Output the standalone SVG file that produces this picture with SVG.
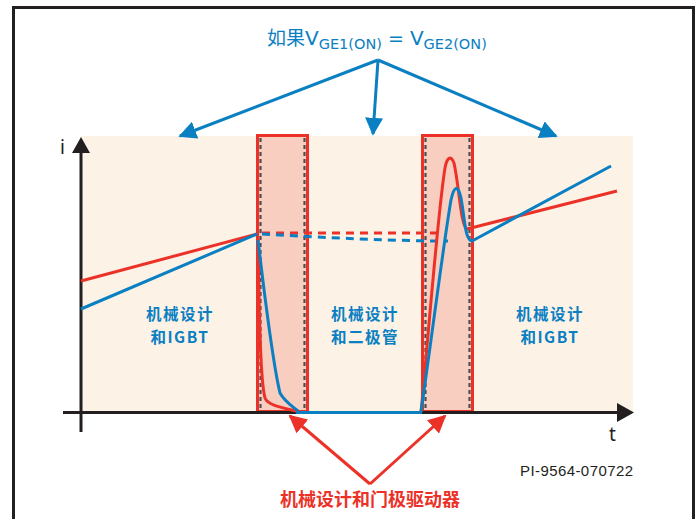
<svg xmlns="http://www.w3.org/2000/svg" width="698" height="519" viewBox="0 0 698 519">
<defs>
<style>
.frame{fill:#ffffff;stroke:#231f20;stroke-width:3}
.zone{fill:#fdf2e6}
.box{fill:#f8cec1;stroke:#ec3228;stroke-width:3}
.dash{stroke:#4d4d4f;stroke-width:2.2;stroke-dasharray:4 3;fill:none}
.axis{stroke:#231f20;stroke-width:3;fill:none}
.red{stroke:#ec3228;stroke-width:3;fill:none;stroke-linejoin:round}
.blue{stroke:#0a80c2;stroke-width:3;fill:none;stroke-linejoin:round}
.reddash{stroke:#ec3228;stroke-width:3;fill:none;stroke-dasharray:8 6}
.bluedash{stroke:#0a80c2;stroke-width:3;fill:none;stroke-dasharray:8 6}
.lbl{font-family:"Noto Sans CJK SC","Liberation Sans",sans-serif;font-weight:bold;font-size:15.5px;letter-spacing:1.5px;fill:#0a80c2;text-anchor:middle}
.ann{stroke:#0a80c2;stroke-width:3;fill:none}
.annr{stroke:#ec3228;stroke-width:3;fill:none}
.axlbl{font-family:"Noto Sans","Liberation Sans",sans-serif;font-size:19px;fill:#231f20}
</style>
<marker id="ab" viewBox="0 0 10 10" refX="9" refY="5" markerWidth="6" markerHeight="6" markerUnits="strokeWidth" orient="auto"><path d="M0,0 L10,5 L0,10 Z" fill="#0a80c2"/></marker>
<marker id="ar" viewBox="0 0 10 10" refX="9" refY="5" markerWidth="6" markerHeight="6" markerUnits="strokeWidth" orient="auto"><path d="M0,0 L10,5 L0,10 Z" fill="#ec3228"/></marker>
</defs>
<rect class="frame" x="13.5" y="7.5" width="680" height="530"/>
<g id="background">
<rect class="zone" x="81" y="136" width="552" height="276"/>
</g>
<g id="box1">
<rect class="box" x="257.5" y="135.5" width="50" height="276"/>
<line class="dash" x1="260.5" y1="138" x2="260.5" y2="410"/>
<line class="dash" x1="304.5" y1="138" x2="304.5" y2="410"/>
</g>
<g id="box2">
<rect class="box" x="422.5" y="135.5" width="50" height="276"/>
<line class="dash" x1="425.5" y1="138" x2="425.5" y2="410"/>
<line class="dash" x1="469.5" y1="138" x2="469.5" y2="410"/>
</g>
<g id="axes">
<line class="axis" x1="81" y1="432" x2="81" y2="150"/>
<path d="M72,153 L81,137 L90,153 Z" fill="#231f20"/>
<line class="axis" x1="63" y1="412.5" x2="620" y2="412.5"/>
<path d="M617,403 L634,412.5 L617,422 Z" fill="#231f20"/>
<text class="axlbl" x="60" y="154">i</text>
<text class="axlbl" x="609" y="441">t</text>
</g>
<g id="curves">
<path class="reddash" d="M262,233 L441,233"/>
<path class="bluedash" d="M262,234 C300,236 380,241 448,241"/>
<path class="red" d="M81,281 L257,234"/>
<path class="blue" d="M81,309 L257,234"/>
<path class="red" d="M258,236 C259,300 260,380 265,398 C268,406 285,408 300,412"/>
<path class="blue" d="M258,240 C264,290 272,360 280,393 C285,402 292,406 298,411"/>
<path class="blue" d="M296,412.5 L422,412.5"/>
<path class="red" d="M421,412 C428,340 438,210 445,168 C447,157 451,155 454,163 C459,185 461,228 467,229 L617,191"/>
<path class="blue" d="M421,412 C430,350 444,240 451,200 C454,186 458,184 461,198 C465,220 465,240 472,241 L611,166"/>
</g>
<g id="zone-igbt-left">
<text class="lbl" x="180" y="320"><tspan x="180">机械设计</tspan><tspan x="180" dy="22.5">和IGBT</tspan></text>
</g>
<g id="zone-diode">
<text class="lbl" x="365" y="320"><tspan x="365">机械设计</tspan><tspan x="365" dy="22.5">和二极管</tspan></text>
</g>
<g id="zone-igbt-right">
<text class="lbl" x="550" y="320"><tspan x="550">机械设计</tspan><tspan x="550" dy="22.5">和IGBT</tspan></text>
</g>
<g id="title">
<text font-family="'DejaVu Sans','Noto Sans CJK SC',sans-serif" font-size="19" fill="#0a80c2" x="267" y="45"><tspan font-family="'Noto Sans CJK SC',sans-serif">如果</tspan><tspan font-size="20">V</tspan><tspan font-size="14.5" dy="4">GE1(ON)</tspan><tspan dy="-4"> = </tspan><tspan font-size="20">V</tspan><tspan font-size="14.5" dy="4">GE2(ON)</tspan></text>
</g>
<g id="connectors">
<line class="ann" x1="378" y1="60" x2="180" y2="136" marker-end="url(#ab)"/>
<line class="ann" x1="378" y1="60" x2="373" y2="134" marker-end="url(#ab)"/>
<line class="ann" x1="378" y1="60" x2="556" y2="136" marker-end="url(#ab)"/>
<line class="annr" x1="370" y1="484" x2="290" y2="416" marker-end="url(#ar)"/>
<line class="annr" x1="370" y1="484" x2="445" y2="416" marker-end="url(#ar)"/>
</g>
<g id="bottom-label">
<text font-family="'Noto Sans CJK SC',sans-serif" font-weight="bold" font-size="18" fill="#ec3228" text-anchor="middle" x="370" y="506">机械设计和门极驱动器</text>
</g>
<g id="code">
<text font-family="'Liberation Sans',sans-serif" font-size="15" fill="#231f20" x="520" y="476" textLength="113">PI-9564-070722</text>
</g>
</svg>
